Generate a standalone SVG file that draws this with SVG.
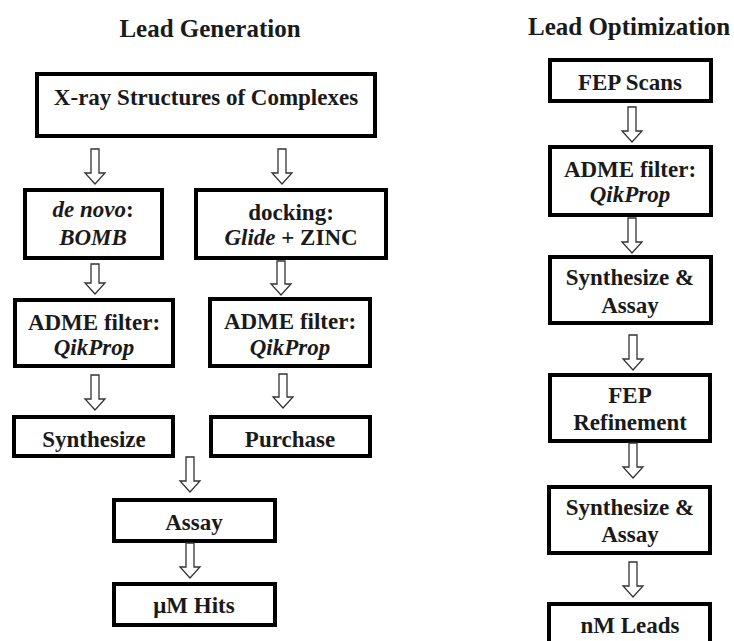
<svg xmlns="http://www.w3.org/2000/svg" width="734" height="641" viewBox="0 0 734 641">
<style>
.bg{fill:#fff}
.box{fill:#fff;stroke:#000;stroke-width:4}
.t{font-family:"Liberation Serif","Times New Roman",serif;font-weight:bold;font-size:23px;fill:#1a1a1a;text-anchor:middle}
.h{font-size:25px}
.i{font-style:italic}
.arr{fill:#fff;stroke:#333;stroke-width:1.3;stroke-linejoin:miter}
</style>
<rect class="bg" x="0" y="0" width="734" height="641"/>
<text class="t h" x="210" y="37">Lead Generation</text>
<text class="t h" x="629" y="35">Lead Optimization</text>

<g id="xray"><rect class="box" x="37" y="74" width="338" height="62"/><text class="t" x="206" y="105">X-ray Structures of Complexes</text></g>
<g id="denovo"><rect class="box" x="25" y="190" width="137" height="68"/><text class="t" x="93" y="217"><tspan class="i">de novo</tspan>:</text><text class="t i" x="93" y="245">BOMB</text></g>
<g id="docking"><rect class="box" x="196" y="190" width="190" height="68"/><text class="t" x="291" y="220">docking:</text><text class="t" x="291" y="245"><tspan class="i">Glide</tspan> + ZINC</text></g>
<g id="adme1"><rect class="box" x="15" y="300" width="158" height="66"/><text class="t" x="94" y="330">ADME filter:</text><text class="t i" x="94" y="355">QikProp</text></g>
<g id="adme2"><rect class="box" x="210" y="299" width="160" height="67"/><text class="t" x="290" y="329">ADME filter:</text><text class="t i" x="290" y="355">QikProp</text></g>
<g id="synth"><rect class="box" x="14" y="417" width="159" height="39"/><text class="t" x="94" y="447">Synthesize</text></g>
<g id="purchase"><rect class="box" x="211" y="417" width="159" height="39"/><text class="t" x="290" y="447">Purchase</text></g>
<g id="assay"><rect class="box" x="114" y="500" width="161" height="41"/><text class="t" x="194" y="530">Assay</text></g>
<g id="hits"><rect class="box" x="114" y="584" width="161" height="41"/><text class="t" x="194" y="613">μM Hits</text></g>

<g id="fepscans"><rect class="box" x="550" y="60" width="161" height="41"/><text class="t" x="630" y="90">FEP Scans</text></g>
<g id="adme3"><rect class="box" x="550" y="147" width="161" height="68"/><text class="t" x="630" y="177">ADME filter:</text><text class="t i" x="630" y="202">QikProp</text></g>
<g id="sa1"><rect class="box" x="550" y="257" width="161" height="66"/><text class="t" x="630" y="285">Synthesize &amp;</text><text class="t" x="630" y="313">Assay</text></g>
<g id="fepref"><rect class="box" x="550" y="375" width="160" height="66"/><text class="t" x="630" y="403">FEP</text><text class="t" x="630" y="430">Refinement</text></g>
<g id="sa2"><rect class="box" x="549" y="487" width="161" height="66"/><text class="t" x="630" y="515">Synthesize &amp;</text><text class="t" x="630" y="542">Assay</text></g>
<g id="nmleads"><rect class="box" x="549" y="604" width="161" height="50"/><text class="t" x="630" y="633">nM Leads</text></g>

<g id="connectors">
<path class="arr" d="M91,149 H99 V173 H105 L95,184 L85,173 H91 Z"/>
<path class="arr" d="M278,149 H286 V173 H292 L282,184 L272,173 H278 Z"/>
<path class="arr" d="M91,264 H99 V283 H105 L95,294 L85,283 H91 Z"/>
<path class="arr" d="M277,261 H285 V284 H291 L281,295 L271,284 H277 Z"/>
<path class="arr" d="M91,375 H99 V399 H105 L95,410 L85,399 H91 Z"/>
<path class="arr" d="M279,374 H287 V397 H293 L283,408 L273,397 H279 Z"/>
<path class="arr" d="M186,457 H194 V481 H200 L190,492 L180,481 H186 Z"/>
<path class="arr" d="M186,543 H194 V567 H200 L190,578 L180,567 H186 Z"/>
<path class="arr" d="M628,107 H636 V131 H642 L632,142 L622,131 H628 Z"/>
<path class="arr" d="M628,218 H636 V242 H642 L632,253 L622,242 H628 Z"/>
<path class="arr" d="M629,335 H637 V359 H643 L633,370 L623,359 H629 Z"/>
<path class="arr" d="M629,443 H637 V467 H643 L633,478 L623,467 H629 Z"/>
<path class="arr" d="M629,562 H637 V586 H643 L633,597 L623,586 H629 Z"/>
</g>
</svg>
